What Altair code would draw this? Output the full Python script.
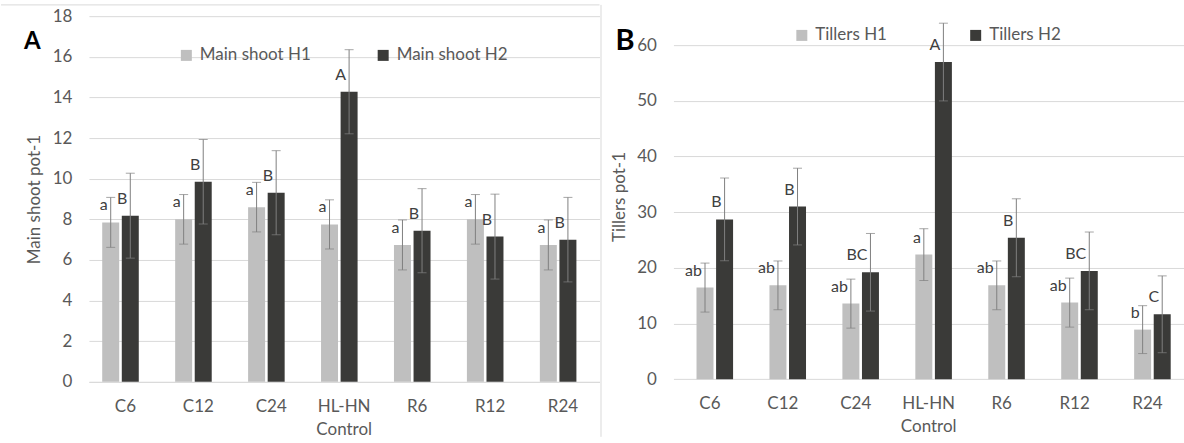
import altair as alt
import pandas as pd

categories = ["C6", "C12", "C24", "HL-HN Control", "R6", "R12", "R24"]

# Panel A: main shoots per pot at two harvests
shoot_series = ["Main shoot H1", "Main shoot H2"]
shoot_h1 = [7.85, 8.0, 8.6, 7.75, 6.74, 8.0, 6.74]
shoot_h1_err = [1.23, 1.22, 1.22, 1.21, 1.23, 1.22, 1.23]
shoot_h1_letters = ["a", "a", "a", "a", "a", "a", "a"]
shoot_h2 = [8.18, 9.85, 9.31, 14.28, 7.44, 7.15, 7.0]
shoot_h2_err = [2.09, 2.08, 2.07, 2.07, 2.07, 2.09, 2.08]
shoot_h2_letters = ["B", "B", "B", "A", "B", "B", "B"]

# Panel B: tillers per pot at two harvests
tiller_series = ["Tillers H1", "Tillers H2"]
tiller_h1 = [16.45, 16.85, 13.57, 22.37, 16.85, 13.75, 8.9]
tiller_h1_err = [4.4, 4.38, 4.4, 4.65, 4.38, 4.4, 4.3]
tiller_h1_letters = ["ab", "ab", "ab", "a", "ab", "ab", "b"]
tiller_h2 = [28.7, 31.0, 19.2, 56.96, 25.4, 19.45, 11.65]
tiller_h2_err = [7.43, 6.89, 6.97, 6.98, 7.0, 6.98, 6.9]
tiller_h2_letters = ["B", "B", "BC", "A", "B", "BC", "C"]

BAR_COLORS = ["#bfbfbf", "#3a3a38"]
GRID = "#d9d9d9"
TEXT = "#595959"
FONT = "Lato"
PLOT_W = 511
PLOT_H = 366


def long_frame(series, m1, e1, l1, m2, e2, l2):
    rows = []
    for name, means, errs, letters in ((series[0], m1, e1, l1), (series[1], m2, e2, l2)):
        for cat, m, e, lt in zip(categories, means, errs, letters):
            rows.append({"category": cat, "series": name, "value": m,
                         "lo": m - e, "hi": m + e, "letter": lt})
    return pd.DataFrame(rows)


def panel(df, series, y_domain, y_ticks, y_title, title_y, x_domain, x_pad,
          letter, letter_x, letter_y, letter_size, legend_x, legend_y, col_pad, frame):
    x_axis = alt.Axis(labelExpr="split(datum.label, ' ')", title=None,
                      domain=x_domain, labelPadding=x_pad)
    x = alt.X("category:N", sort=categories, axis=x_axis,
              scale=alt.Scale(paddingInner=0.486, paddingOuter=0.243))
    xo = alt.XOffset("series:N", sort=series,
                     scale=alt.Scale(paddingInner=0.17, paddingOuter=0))
    y_scale = alt.Scale(domain=y_domain, nice=False, zero=False)
    y_axis = alt.Axis(values=y_ticks, title=y_title,
                      titleX=-54, titleY=title_y, titleAngle=270,
                      titleAlign="center", titleBaseline="middle")

    base = alt.Chart(df)
    bars = base.mark_bar(width=17).encode(
        x=x, xOffset=xo,
        y=alt.Y("value:Q", scale=y_scale, axis=y_axis),
        y2=alt.Y2(datum=0),
        color=alt.Color("series:N", sort=series,
                        scale=alt.Scale(domain=series, range=BAR_COLORS),
                        legend=alt.Legend(orient="none", legendX=legend_x, legendY=legend_y,
                                          direction="horizontal", title=None,
                                          symbolType="square", symbolSize=121,
                                          symbolStrokeWidth=0, labelFont=FONT,
                                          labelFontSize=17, labelColor=TEXT,
                                          labelOffset=5, columnPadding=col_pad,
                                          padding=0)),
    )
    whisker = base.mark_rule(color="#808080", strokeWidth=1).encode(
        x=x, xOffset=xo,
        y=alt.Y("lo:Q", scale=y_scale, axis=y_axis), y2="hi:Q",
    )
    cap_hi = base.mark_tick(orient="horizontal", size=9, thickness=1, color="#808080").encode(
        x=x, xOffset=xo, y=alt.Y("hi:Q", scale=y_scale, axis=y_axis))
    cap_lo = base.mark_tick(orient="horizontal", size=9, thickness=1, color="#808080").encode(
        x=x, xOffset=xo, y=alt.Y("lo:Q", scale=y_scale, axis=y_axis))
    letters = base.mark_text(font=FONT, fontSize=16, color="#404040", align="right",
                             baseline="middle", dx=-3, dy=-17).encode(
        x=x, xOffset=xo, y=alt.Y("value:Q", scale=y_scale, axis=y_axis), text="letter:N")

    tag = alt.Chart(pd.DataFrame({"label": [letter]})).mark_text(
        font=FONT, fontWeight="bold", fontSize=letter_size, color="black",
        align="left", baseline="alphabetic").encode(
        x=alt.value(letter_x), y=alt.value(letter_y), text="label:N")

    border = alt.Chart(pd.DataFrame({"k": [0]})).mark_rule(color=GRID, strokeWidth=1).encode(**frame)

    return alt.layer(border, bars, whisker, cap_hi, cap_lo, letters, tag).properties(
        width=PLOT_W, height=PLOT_H)


shoots = long_frame(shoot_series, shoot_h1, shoot_h1_err, shoot_h1_letters,
                    shoot_h2, shoot_h2_err, shoot_h2_letters)
tillers = long_frame(tiller_series, tiller_h1, tiller_h1_err, tiller_h1_letters,
                     tiller_h2, tiller_h2_err, tiller_h2_letters)

panel_a = panel(shoots, shoot_series, [0, 18], list(range(0, 19, 2)), "Main shoot pot-1", 183,
                True, 17, "A", -65, 33, 24, 89, 30.5, 63,
                dict(x=alt.value(-88), x2=alt.value(PLOT_W), y=alt.value(-11.3)))
panel_b = panel(tillers, tiller_series, [-0.485, 65.2], list(range(0, 61, 10)), "Tillers pot-1", 180.5,
                False, 14, "B", -58, 34, 29, 120, 10.5, 80,
                dict(x=alt.value(-72.5), y=alt.value(-11.3), y2=alt.value(421)))

chart = alt.hconcat(panel_a, panel_b, spacing=0).resolve_scale(
    color="independent"
).resolve_legend(
    color="independent"
).properties(
    padding={"left": 0, "top": 4, "right": 0, "bottom": 0}
).configure_view(stroke=None).configure_axis(
    labelFont=FONT, labelFontSize=17, labelColor=TEXT,
    titleFont=FONT, titleFontSize=17, titleColor=TEXT, titleFontWeight="normal",
    gridColor=GRID, gridWidth=1,
).configure_axisY(
    domain=False, ticks=False, labelPadding=17, grid=True,
).configure_axisX(
    domainColor=GRID, ticks=False, grid=False,
    labelAngle=0, labelLineHeight=23,
)

chart.save("out.html", embed_options={"renderer": "svg", "actions": False})
